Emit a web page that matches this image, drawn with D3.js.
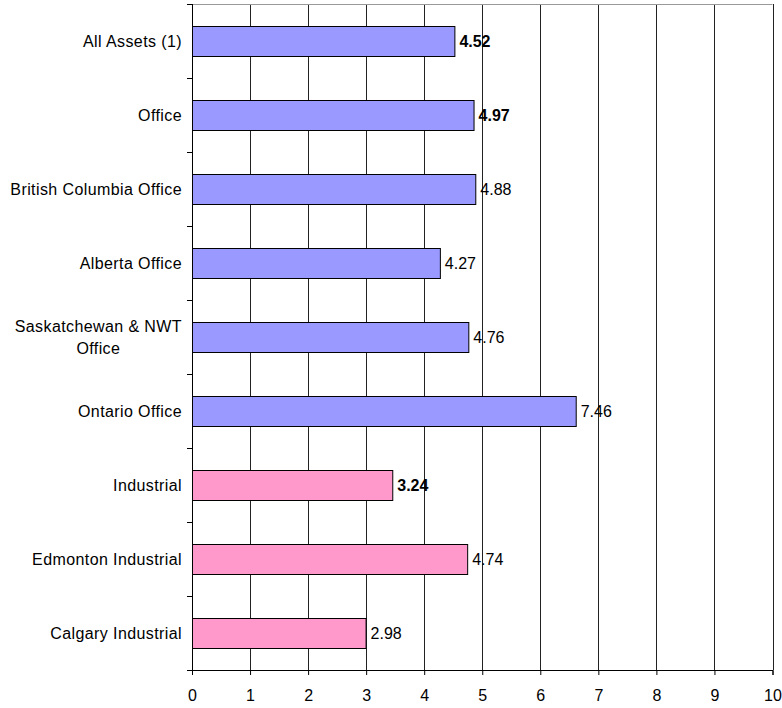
<!DOCTYPE html>
<html>
<head>
<meta charset="utf-8">
<script src="https://cdn.jsdelivr.net/npm/d3@7"></script>
<style>
  body { margin: 0; background: #fff; }
  text { font-family: "Liberation Sans", Arial, sans-serif; }
</style>
</head>
<body>
<svg></svg>
<script>
// chart data
const categories = ['All Assets (1)', 'Office', 'British Columbia Office', 'Alberta Office',
    'Saskatchewan & NWT Office', 'Ontario Office', 'Industrial', 'Edmonton Industrial', 'Calgary Industrial'];
const barValues = [4.52, 4.85, 4.88, 4.27, 4.76, 6.61, 3.45, 4.74, 2.99];
const valueLabels = ['4.52', '4.97', '4.88', '4.27', '4.76', '7.46', '3.24', '4.74', '2.98'];
const boldLabels = [true, true, false, false, false, false, true, false, false];
const groups = ['office', 'office', 'office', 'office', 'office', 'office', 'industrial', 'industrial', 'industrial'];
const xTicks = [0, 1, 2, 3, 4, 5, 6, 7, 8, 9, 10];

const margin = {t: 4, r: 8, b: 38, l: 192};
const size = {w: 782, h: 708};
const colors = {office: '#9999ff', industrial: '#ff99cc'};
const fontSize = 16;

const svg = d3.select('svg')
    .attr('width', size.w)
    .attr('height', size.h);

const x = d3.scaleLinear()
    .domain([0, 10])
    .range([margin.l, 772.5]);

const y = d3.scaleBand()
    .domain(categories)
    .range([margin.t, size.h - margin.b])
    .paddingInner(0.6)
    .paddingOuter(0.3);

// band edges for the y ticks
const step = y.step();
const bandEdges = d3.range(categories.length + 1).map(i => margin.t + i * step);

// vertical gridlines
svg.append('g').selectAll('line')
    .data(xTicks.slice(1))
    .join('line')
    .attr('x1', d => Math.round(x(d)) + 0.5)
    .attr('x2', d => Math.round(x(d)) + 0.5)
    .attr('y1', margin.t)
    .attr('y2', size.h - margin.b)
    .attr('stroke', '#222')
    .attr('stroke-width', 1);

// top border of plot
svg.append('line')
    .attr('x1', x(0)).attr('x2', x(10))
    .attr('y1', margin.t + 0.5).attr('y2', margin.t + 0.5)
    .attr('stroke', '#999');

// bars
svg.append('g').selectAll('rect')
    .data(categories)
    .join('rect')
    .attr('x', x(0) + 0.5)
    .attr('y', d => Math.round(y(d)) + 0.5)
    .attr('width', (d, i) => x(barValues[i]) - x(0))
    .attr('height', Math.round(y.bandwidth()))
    .attr('fill', (d, i) => colors[groups[i]])
    .attr('stroke', '#000')
    .attr('stroke-width', 1);

// value labels
svg.append('g').selectAll('text')
    .data(categories)
    .join('text')
    .attr('x', (d, i) => x(barValues[i]) + 5)
    .attr('y', d => y(d) + y.bandwidth() / 2)
    .attr('dy', '0.35em')
    .attr('font-size', fontSize)
    .attr('font-weight', (d, i) => boldLabels[i] ? 'bold' : 'normal')
    .text((d, i) => valueLabels[i]);

// x axis
const xAxis = svg.append('g')
    .attr('transform', `translate(0, ${size.h - margin.b})`)
    .call(d3.axisBottom(x).tickValues(xTicks).tickSize(5).tickPadding(15).tickFormat(d3.format('d')));
xAxis.select('.domain').attr('stroke', '#000');
xAxis.selectAll('.tick line').attr('stroke', '#000');
xAxis.selectAll('text').attr('font-size', fontSize).attr('font-family', '"Liberation Sans", Arial, sans-serif');

// y axis line with ticks at band edges
const yG = svg.append('g');
yG.append('line')
    .attr('x1', x(0) + 0.5).attr('x2', x(0) + 0.5)
    .attr('y1', margin.t).attr('y2', size.h - margin.b)
    .attr('stroke', '#000');
yG.selectAll('line.tick')
    .data(bandEdges)
    .join('line')
    .classed('tick', true)
    .attr('x1', x(0) - 5).attr('x2', x(0))
    .attr('y1', d => Math.round(d) + 0.5)
    .attr('y2', d => Math.round(d) + 0.5)
    .attr('stroke', '#000');

// category labels (wrap the long one)
categories.forEach(c => {
    const cy = y(c) + y.bandwidth() / 2;
    if (c === 'Saskatchewan & NWT Office') {
        const t = yG.append('text')
            .attr('font-size', fontSize)
            .attr('letter-spacing', 0.4)
            .attr('text-anchor', 'middle');
        const l1 = t.append('tspan').text('Saskatchewan & NWT');
        const w = l1.node().getComputedTextLength();
        const cx = x(0) - 10 - w / 2;
        l1.attr('x', cx).attr('y', cy - 11).attr('dy', '0.35em');
        t.append('tspan').text('Office').attr('x', cx).attr('y', cy + 11).attr('dy', '0.35em');
    } else {
        yG.append('text')
            .attr('x', x(0) - 10)
            .attr('y', cy)
            .attr('dy', '0.35em')
            .attr('font-size', fontSize)
            .attr('letter-spacing', 0.4)
            .attr('text-anchor', 'end')
            .text(c);
    }
});
</script>
</body>
</html>
